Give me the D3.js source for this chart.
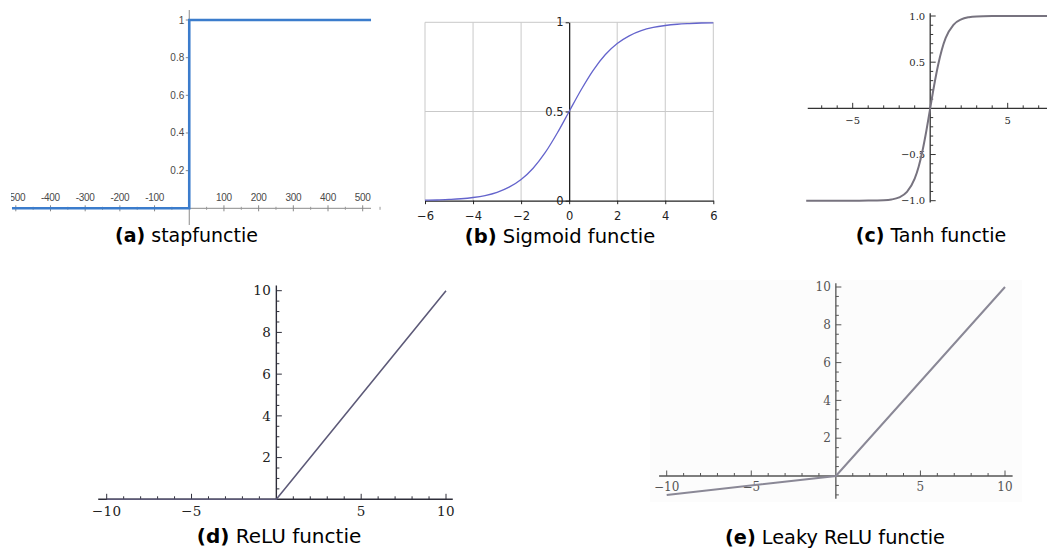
<!DOCTYPE html>
<html><head><meta charset="utf-8">
<script src="https://cdn.jsdelivr.net/npm/d3@7"></script>
<style>body{margin:0;background:#fff}svg{display:block}</style>
</head><body>
<svg id="c" width="1047" height="552"></svg>
<script>
// ---------- data ----------
const captionLetters = ["(a)", "(b)", "(c)", "(d)", "(e)"];
const captionTexts = [" stapfunctie", " Sigmoid functie", " Tanh functie", " ReLU functie", " Leaky ReLU functie"];

// (a) step function
const stepX = [-511, 0, 0, 524];
const stepY = [0, 0, 1, 1];
const stepXTicks = [-500, -400, -300, -200, -100, 100, 200, 300, 400, 500];
const stepYTicks = [0.2, 0.4, 0.6, 0.8, 1];

// (b) sigmoid
const sigX = [-6, -5.5, -5, -4.5, -4, -3.5, -3, -2.5, -2, -1.5, -1, -0.5, 0, 0.5, 1, 1.5, 2, 2.5, 3, 3.5, 4, 4.5, 5, 5.5, 6];
const sigY = [0.003, 0.004, 0.007, 0.011, 0.018, 0.029, 0.047, 0.076, 0.119, 0.182, 0.269, 0.378, 0.5, 0.622, 0.731, 0.818, 0.881, 0.924, 0.953, 0.971, 0.982, 0.989, 0.993, 0.996, 0.997];
const sigXTicks = [-6, -4, -2, 0, 2, 4, 6];
const sigYTicks = [0, 0.5, 1];

// (c) tanh
const tanhX = [-8, -6, -5, -4, -3, -2.5, -2, -1.5, -1, -0.75, -0.5, -0.25, 0, 0.25, 0.5, 0.75, 1, 1.5, 2, 2.5, 3, 4, 5, 6, 8];
const tanhY = [-1, -1, -1, -0.999, -0.995, -0.987, -0.964, -0.905, -0.762, -0.635, -0.462, -0.245, 0, 0.245, 0.462, 0.635, 0.762, 0.905, 0.964, 0.987, 0.995, 0.999, 1, 1, 1];
const tanhXTicks = [-5, 5];
const tanhYTicks = [-1, -0.5, 0.5, 1];

// (d) ReLU
const reluX = [-10, 0, 10];
const reluY = [0, 0, 10];
// (e) Leaky ReLU
const leakyX = [-10, 0, 10];
const leakyY = [-1, 0, 10];
const reluXTicks = [-10, -5, 5, 10];
const reluYTicks = [2, 4, 6, 8, 10];

// ---------- drawing ----------
const svg = d3.select("#c");
const minus = v => (v < 0 ? "\u2212" : "") + Math.abs(v);
const range = (a, b, s) => d3.range(a, b + s / 2, s).map(v => +v.toFixed(4));

function zip(xs, ys) { return xs.map((x, i) => [x, ys[i]]); }

// ===== (a) =====
{
  const g = svg.append("g");
  svg.append("clipPath").attr("id", "clipA").append("rect").attr("x", 11).attr("y", 0).attr("width", 380).attr("height", 260);
  g.attr("clip-path", "url(#clipA)");
  const x = d3.scaleLinear().domain([-500, 500]).range([15.8, 362.7]);
  const y = d3.scaleLinear().domain([0, 1]).range([208.3, 20]);
  g.append("line").attr("x1", x(-511)).attr("x2", x(524)).attr("y1", y(0)).attr("y2", y(0)).attr("stroke", "#8a8a8a").attr("stroke-width", 1);
  const minorA = range(-550, 550, 50).filter(v => v % 100 !== 0);
  g.selectAll(".amn").data(minorA).join("line").attr("x1", d => x(d)).attr("x2", d => x(d))
    .attr("y1", y(0) - 1.5).attr("y2", y(0) + 1.5).attr("stroke", "#999");
  g.selectAll(".amj").data(stepXTicks).join("line").attr("x1", d => x(d)).attr("x2", d => x(d))
    .attr("y1", y(0) - 3).attr("y2", y(0) + 3).attr("stroke", "#888");
  g.selectAll(".axl").data(stepXTicks).join("text").attr("x", d => x(d)).attr("y", y(0) - 7)
    .attr("text-anchor", "middle").attr("font-family", "Liberation Sans, Arial, sans-serif")
    .attr("font-size", 10).attr("fill", "#4a4a4a").attr("letter-spacing", -0.3).text(d => String(d));
  g.append("line").attr("x1", x(0)).attr("x2", x(0)).attr("y1", 10).attr("y2", 225).attr("stroke", "#8a8a8a");
  g.selectAll(".ayt").data(stepYTicks).join("line").attr("x1", x(0) - 3.5).attr("x2", x(0))
    .attr("y1", d => y(d)).attr("y2", d => y(d)).attr("stroke", "#888");
  g.selectAll(".ayl").data(stepYTicks).join("text").attr("x", x(0) - 5).attr("y", d => y(d))
    .attr("dy", "0.35em").attr("text-anchor", "end").attr("font-family", "Liberation Sans, Arial, sans-serif")
    .attr("font-size", 10).attr("fill", "#4a4a4a").text(d => String(d));
  g.append("path").datum(zip(stepX, stepY)).attr("fill", "none").attr("stroke", "#3b7ccc")
    .attr("stroke-width", 2.6).attr("d", d3.line().x(d => x(d[0])).y(d => y(d[1])));
}

// ===== (b) =====
{
  const g = svg.append("g");
  const x = d3.scaleLinear().domain([-6, 6]).range([425, 713.3]);
  const y = d3.scaleLinear().domain([0, 1]).range([200.7, 22.3]);
  g.selectAll(".gv").data([-6, -4, -2, 2, 4, 6]).join("line").attr("x1", d => x(d)).attr("x2", d => x(d))
    .attr("y1", y(0)).attr("y2", y(1)).attr("stroke", "#c9c9c9").attr("stroke-width", 1);
  g.selectAll(".gh").data([0.5, 1]).join("line").attr("x1", x(-6)).attr("x2", x(6))
    .attr("y1", d => y(d)).attr("y2", d => y(d)).attr("stroke", "#c9c9c9").attr("stroke-width", 1);
  const ax = g.append("g").attr("transform", `translate(0,${y(0)})`)
    .call(d3.axisBottom(x).tickValues(sigXTicks).tickSize(3.5).tickPadding(8).tickFormat(minus).tickSizeOuter(0));
  ax.select(".domain").attr("stroke", "#222").attr("stroke-width", 1.3);
  ax.selectAll("line").attr("stroke", "#222");
  ax.selectAll("text").attr("font-family", "DejaVu Sans, sans-serif").attr("font-size", 11.5).attr("fill", "#222");
  const ay = g.append("g").attr("transform", `translate(${x(0)},0)`)
    .call(d3.axisLeft(y).tickValues(sigYTicks).tickSize(3.5).tickPadding(2).tickFormat(d => String(d)).tickSizeOuter(0));
  ay.select(".domain").attr("stroke", "#222").attr("stroke-width", 1.3);
  ay.selectAll("line").attr("stroke", "#222");
  ay.selectAll("text").attr("font-family", "DejaVu Sans, sans-serif").attr("font-size", 11.5).attr("fill", "#222");
  g.append("path").datum(zip(sigX, sigY)).attr("fill", "none").attr("stroke", "#6464cc")
    .attr("stroke-width", 1.3).attr("d", d3.line().curve(d3.curveMonotoneX).x(d => x(d[0])).y(d => y(d[1])));
}

// Mathematica-style axes helper
function mathAxes(g, x, y, o) {
  g.append("line").attr("x1", x(o.xMin)).attr("x2", x(o.xMax)).attr("y1", y(0)).attr("y2", y(0))
    .attr("stroke", o.axisColor).attr("stroke-width", o.axisWidth);
  g.append("line").attr("x1", x(0)).attr("x2", x(0)).attr("y1", y(o.yMin)).attr("y2", y(o.yMax))
    .attr("stroke", o.axisColor).attr("stroke-width", o.axisWidth);
  const tick = (vals, len, isX) => g.append("g").selectAll("line").data(vals).join("line")
    .attr("x1", d => isX ? x(d) : x(0)).attr("x2", d => isX ? x(d) : x(0) + len)
    .attr("y1", d => isX ? y(0) : y(d)).attr("y2", d => isX ? y(0) - len : y(d))
    .attr("stroke", o.axisColor).attr("stroke-width", 1);
  tick(o.xMinor, 3, true);
  tick(o.xMajor, 5.5, true);
  tick(o.yMinor, 3, false);
  tick(o.yMajor, 5.5, false);
  g.append("g").selectAll("text").data(o.xMajor).join("text")
    .attr("x", d => x(d)).attr("y", y(0) + o.xLabelDy).attr("text-anchor", "middle")
    .attr("font-family", "DejaVu Serif, serif").attr("font-size", o.fontSize).attr("fill", o.labelColor)
    .attr("letter-spacing", o.ls || 0).text(o.xFmt);
  g.append("g").selectAll("text").data(o.yMajor).join("text")
    .attr("x", x(0) - o.yLabelPad).attr("y", d => y(d)).attr("dy", "0.35em").attr("text-anchor", "end")
    .attr("font-family", "DejaVu Serif, serif").attr("font-size", o.fontSize).attr("fill", o.labelColor)
    .attr("letter-spacing", o.ls || 0).text(o.yFmt);
}

// ===== (c) =====
{
  const g = svg.append("g");
  const x = d3.scaleLinear().domain([-5, 5]).range([852.7, 1007.7]);
  const y = d3.scaleLinear().domain([-1, 1]).range([200.7, 16]);
  mathAxes(g, x, y, {
    xMin: -7.9, xMax: 7.7, yMin: -1.02, yMax: 1.03, axisColor: "#333", axisWidth: 1.3,
    xMinor: range(-7, 7, 1).filter(v => v !== 0 && Math.abs(v) !== 5), xMajor: tanhXTicks,
    yMinor: range(-1, 1, 0.1).filter(v => v !== 0 && !tanhYTicks.includes(v)), yMajor: tanhYTicks,
    xLabelDy: 15.5, yLabelPad: 5, fontSize: 10, labelColor: "#2a2a2a",
    xFmt: minus, yFmt: d => (d < 0 ? "\u2212" : "") + Math.abs(d).toFixed(1)
  });
  g.append("path").datum(zip(tanhX, tanhY)).attr("fill", "none").attr("stroke", "#77737f")
    .attr("stroke-width", 2).attr("d", d3.line().curve(d3.curveMonotoneX).x(d => x(d[0])).y(d => y(d[1])));
}

// ===== (d) =====
{
  const g = svg.append("g");
  const x = d3.scaleLinear().domain([-10, 10]).range([106.7, 446]);
  const y = d3.scaleLinear().domain([0, 10]).range([499.3, 290.7]);
  mathAxes(g, x, y, {
    xMin: -10.5, xMax: 10.4, yMin: 0, yMax: 10.25, axisColor: "#2e2e3a", axisWidth: 1.4,
    xMinor: range(-10, 10, 1).filter(v => v % 5 !== 0), xMajor: reluXTicks,
    yMinor: range(0.5, 10, 0.5).filter(v => v % 2 !== 0), yMajor: reluYTicks,
    xLabelDy: 17, yLabelPad: 5, fontSize: 13.5, labelColor: "#222", ls: 0.5,
    xFmt: minus, yFmt: d => String(d)
  });
  g.append("path").datum(zip(reluX, reluY)).attr("fill", "none").attr("stroke", "#5d5a78")
    .attr("stroke-width", 1.6).attr("d", d3.line().x(d => x(d[0])).y(d => y(d[1])));
}

// ===== (e) =====
{
  const g = svg.append("g");
  g.append("rect").attr("x", 650).attr("y", 280).attr("width", 372).attr("height", 222).attr("fill", "#fcfcfc");
  const x = d3.scaleLinear().domain([-10, 10]).range([666.7, 1005]);
  const y = d3.scaleLinear().domain([0, 10]).range([476, 287]);
  mathAxes(g, x, y, {
    xMin: -10.45, xMax: 10.45, yMin: -1.2, yMax: 10.2, axisColor: "#555", axisWidth: 1.3,
    xMinor: range(-10, 10, 1).filter(v => v % 5 !== 0), xMajor: reluXTicks,
    yMinor: range(-1, 10, 0.5).filter(v => v !== 0 && v % 2 !== 0), yMajor: reluYTicks,
    xLabelDy: 14.5, yLabelPad: 5, fontSize: 12, labelColor: "#555",
    xFmt: minus, yFmt: d => String(d)
  });
  g.append("path").datum(zip(leakyX, leakyY)).attr("fill", "none").attr("stroke", "#8a8896")
    .attr("stroke-width", 2).attr("d", d3.line().x(d => x(d[0])).y(d => y(d[1])));
}

// ===== captions =====
const capPos = [[186.5, 242, 19], [560, 243, 19.5], [931, 242, 19], [279, 543, 20], [835, 544, 19.3]];
captionLetters.forEach((l, i) => {
  const t = svg.append("text").attr("x", capPos[i][0]).attr("y", capPos[i][1]).attr("text-anchor", "middle")
    .attr("font-family", "DejaVu Sans, Verdana, sans-serif").attr("font-size", capPos[i][2]).attr("fill", "#000");
  t.append("tspan").attr("font-weight", "bold").text(l);
  t.append("tspan").text(captionTexts[i]);
});
</script>
</body></html>
